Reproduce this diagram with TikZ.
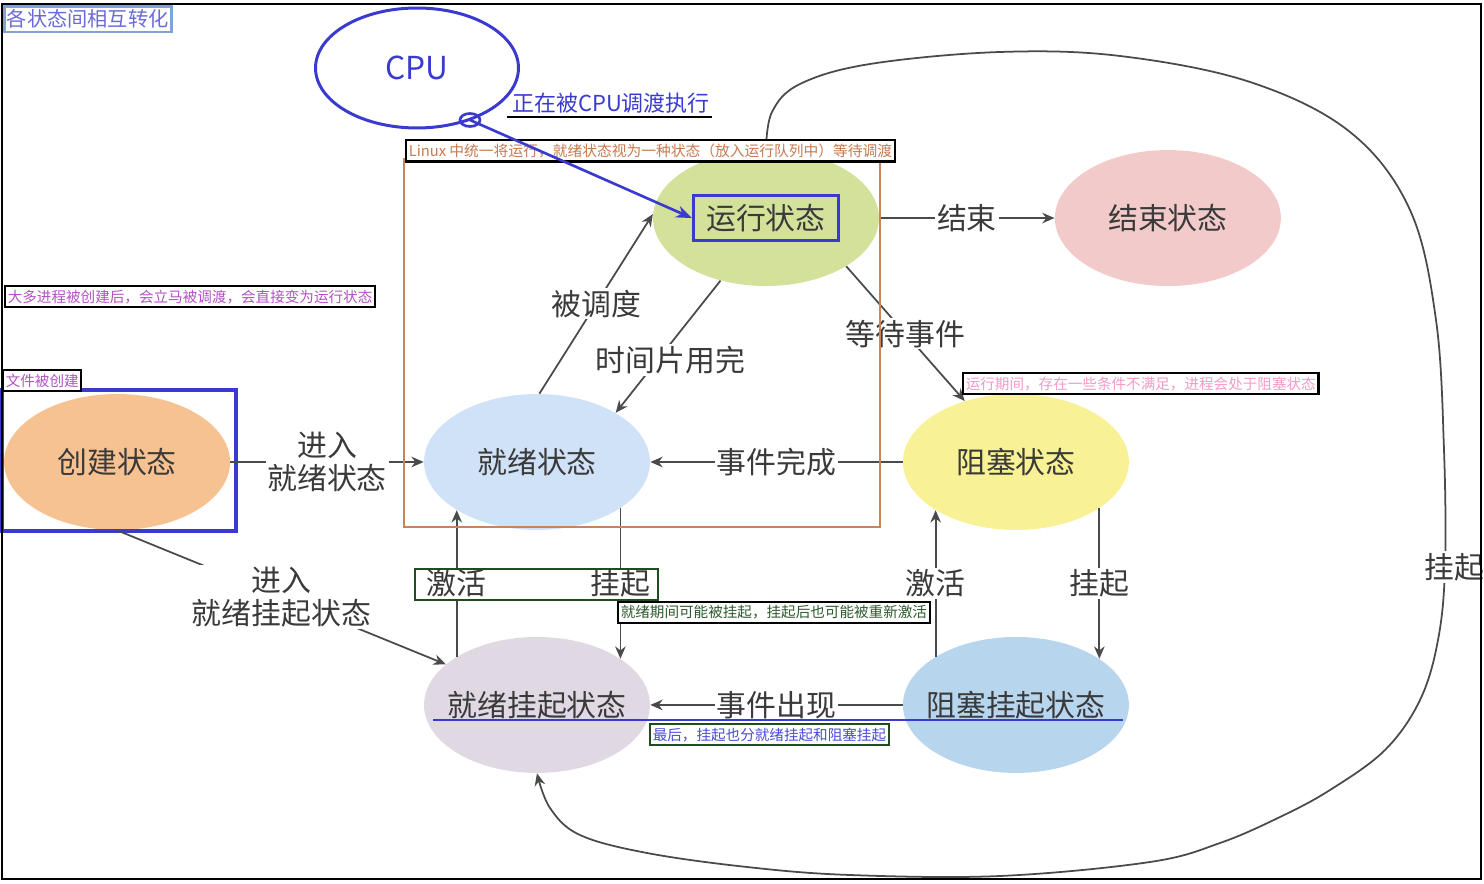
\documentclass[tikz,border=0pt]{standalone}
\usepackage{fontspec}
\setmainfont{Noto Sans CJK SC}
\usetikzlibrary{positioning, shapes.geometric, arrows.meta}
\definecolor{textgray}{HTML}{3A3A3A}
\definecolor{linegray}{HTML}{4A4A4A}
\definecolor{runfill}{HTML}{D4E19B}
\definecolor{endfill}{HTML}{F2CACA}
\definecolor{readyfill}{HTML}{CFE2F8}
\definecolor{blockfill}{HTML}{F8F196}
\definecolor{createfill}{HTML}{F6C291}
\definecolor{rsuspfill}{HTML}{E0D9E3}
\definecolor{bsuspfill}{HTML}{B8D5EE}
\definecolor{cpublue}{HTML}{3A3AD0}
\definecolor{queuebrown}{HTML}{C8845A}
\definecolor{notebrown}{HTML}{C77B4F}
\definecolor{notepurple}{HTML}{B352C4}
\definecolor{notepink}{HTML}{F39BC9}
\definecolor{notegreen}{HTML}{2E5A2E}
\definecolor{boxgreen}{HTML}{1F4D1F}
\definecolor{noteblue}{HTML}{4B4BD8}
\definecolor{titletext}{HTML}{6A6AD8}
\definecolor{titleborder}{HTML}{7FA3D3}
\tikzstyle{state} = [ellipse, minimum width=4.52cm, minimum height=2.72cm, inner sep=0pt, text=textgray, font=\fontsize{17}{19}\selectfont]
\tikzstyle{arrow} = [line width=1pt, draw=linegray, -{Stealth[length=7pt,width=6pt]}]
\tikzstyle{tag} = [fill=white, text=textgray, inner sep=1pt, align=center, font=\fontsize{17}{19}\selectfont]
\tikzstyle{note} = [draw=black, line width=1.3pt, fill=white, inner xsep=1.5pt, inner ysep=2pt, anchor=north west, font=\fontsize{8.3}{10}\selectfont]
\begin{document}
\begin{tikzpicture}[x=0.02cm, y=-0.02cm]
    \useasboundingbox (0,0) rectangle (1484,884);

        % States
        \node (ready) [state, fill=readyfill] at (537,462) {\makebox[0pt]{就绪状态}};
        \node (block) [state, fill=blockfill, right of=ready, node distance=9.58cm] {\makebox[0pt]{阻塞状态}};
        \node (create) [state, fill=createfill, left of=ready, node distance=8.4cm] {\makebox[0pt]{创建状态}};
        \node (rsusp) [state, fill=rsuspfill, below of=ready, node distance=4.86cm] {\makebox[0pt]{就绪挂起状态}};
        \node (bsusp) [state, fill=bsuspfill, below of=block, node distance=4.86cm] {\makebox[0pt]{阻塞挂起状态}};
        \node (run) [state, fill=runfill, above of=ready, node distance=4.88cm, xshift=4.58cm] {};
        \node (runbox) [draw=cpublue, line width=1.8pt, minimum width=2.9cm, minimum height=0.9cm, text=textgray, font=\fontsize{17}{19}\selectfont] at (run) {运行状态};
        \node (end) [state, fill=endfill, right of=run, node distance=8.04cm] {\makebox[0pt]{结束状态}};
        \node (createbox) [draw=cpublue, line width=1.8pt, minimum width=4.68cm, minimum height=2.82cm] at (119,460.5) {};

        % CPU
        \node (cpu) [ellipse, draw=cpublue, line width=1.7pt, minimum width=4.06cm, minimum height=2.4cm, text=cpublue, font=\fontsize{18}{20}\selectfont] at (417,68) {CPU};
        \coordinate (loop) at (470,120);
        \draw [cpublue, line width=1.5pt] (loop) circle [x radius=0.2cm, y radius=0.13cm];
        \node (cpunote) [text=cpublue, inner sep=0pt, font=\fontsize{12.5}{14}\selectfont] at (611,103) {正在被CPU调渡执行};
        \draw [line width=1.3pt] (507,117) -- (712,117);

        % Arrows
        \draw [arrow] (run.east) -- (end.west) node[tag, midway] {结束};
        \draw [arrow] (ready.88) -- (run.178) node[tag, midway] {被调度};
        \draw [arrow] (run.234) -- (ready.32) node[tag, pos=0.6, xshift=0.26cm] {时间片用完};
        \draw [arrow] (run.-31) -- (block.130) node[tag, midway] {等待事件};
        \draw [arrow] (block.west) -- (ready.east) node[tag, midway] {事件完成};
        \draw [arrow] (create.east) -- (ready.west) node[tag, midway] {进入\\就绪状态};
        \draw [arrow] (create.south) -- (rsusp.156) node[tag, midway] {进入\\就绪挂起状态};
        \draw [arrow] (rsusp.149) -- (ready.211) node[tag, midway] {激活};
        \draw [arrow] (ready.-29) -- (rsusp.29) node[tag, midway] {挂起};
        \draw [arrow] (bsusp.149) -- (block.211) node[tag, midway] {激活};
        \draw [arrow] (block.-29) -- (bsusp.29) node[tag, midway] {挂起};
        \draw [arrow] (bsusp.west) -- (rsusp.east) node[tag, midway] {事件出现};
        \draw [arrow] plot[smooth, tension=0.6] coordinates {(run.north) (772,112) (800,84) (870,64) (1000,52) (1120,56) (1250,82) (1350,132) (1410,210) (1436,320) (1444,450) (1445,567) (1438,640) (1420,700) (1385,750) (1330,790) (1280,817) (1220,843) (1150,862) (1000,876) (850,875) (747,867) (647,853) (580,835) (550,808) (rsusp.south)};
        \node (suspall) [tag] at (1454,567) {挂起};

        % Notes
        \draw [queuebrown, line width=1pt] (404,159) rectangle (880,527);
        \draw [boxgreen, line width=1.3pt] (415,569) rectangle (658,600);
        \draw [cpublue, line width=1.2pt] (433,720) -- (1123,720);
        \node (title) [note, draw=titleborder, line width=1.5pt, text=titletext, font=\fontsize{11.5}{13}\selectfont] at (3,5) {各状态间相互转化};
        \node (queuenote) [note, text=notebrown, font=\fontsize{8.4}{10}\selectfont] at (405,139) {Linux 中统一将运行，就绪状态视为一种状态（放入运行队列中）等待调渡};
        \node (createnote) [note, text=notepurple] at (4,285) {大多进程被创建后，会立马被调渡，会直接变为运行状态};
        \node (filenote) [note, text=notepurple] at (2,369) {文件被创建};
        \node (blocknote) [note, text=notepink] at (962,372) {运行期间，存在一些条件不满足，进程会处于阻塞状态};
        \node (suspnote) [note, text=notegreen] at (617,601) {就绪期间可能被挂起，挂起后也可能被重新激活};
        \node (lastnote) [note, draw=boxgreen, text=noteblue] at (649,723) {最后，挂起也分就绪挂起和阻塞挂起};
        \draw [cpublue, line width=1.5pt, -{Stealth[length=9pt,width=7pt]}] (loop) -- (runbox.west);

        % Frame
        \draw [line width=1.5pt] (2,4) rectangle (1481,879);

    \end{tikzpicture}
\end{document}
